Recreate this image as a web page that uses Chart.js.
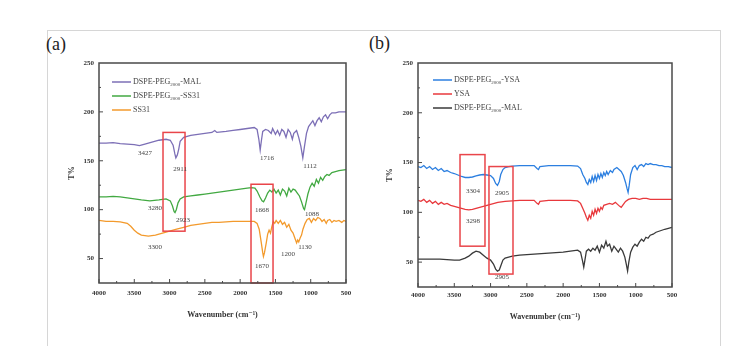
<!DOCTYPE html>
<html>
<head>
<meta charset="utf-8">
<script src="https://cdn.jsdelivr.net/npm/chart.js@4.4.1/dist/chart.umd.min.js"></script>
<style>
  body { margin: 0; background: #fff; }
  #wrap { position: relative; width: 741px; height: 346px; overflow: hidden; background: #fff; }
  #border { position: absolute; left: 47px; top: 30px; width: 672px; height: 330px; border: 1px solid #d6d6d6; border-bottom: none; }
  .tag { position: absolute; font-family: "Liberation Serif", serif; font-size: 18px; color: #222; }
  canvas { position: absolute; top: 30px; }
</style>
</head>
<body>
<div id="wrap">
  <div id="border"></div>
  <div class="tag" style="left:46px; top:34px;">(a)</div>
  <div class="tag" style="left:369px; top:33px;">(b)</div>
  <canvas id="chartA" width="313" height="290" style="left:47px;"></canvas>
  <canvas id="chartB" width="360" height="292" style="left:360px;"></canvas>
</div>
<script>
// ---- panel (a) ----
const malWnA = [4000,3900,3800,3700,3600,3500,3427,3350,3250,3150,3050,2990,2950,2925,2911,2890,2870,2850,2800,2700,2600,2500,2400,2360,2330,2200,2100,2000,1900,1800,1760,1735,1716,1700,1680,1640,1600,1560,1540,1500,1470,1440,1410,1380,1350,1320,1290,1260,1240,1200,1170,1140,1112,1090,1060,1030,1000,970,940,910,880,850,820,790,760,730,700,650,600,500];
const malTA  = [168,168,168.5,167.5,167,166.5,165.5,167,169,171,172,171,166,157,153,156,162,170,174,176,177,178,179,181,179,180,181,182,183,184,182,172,161,170,180,182,181,178,183,177,181,176,182,180,174,182,179,172,178,181,174,165,153,164,178,185,188,191,186,191,194,190,195,197,193,197,199,199,200,200];

const ssWnA = [4000,3900,3800,3700,3600,3500,3400,3280,3150,3050,2990,2960,2935,2923,2905,2880,2850,2800,2700,2600,2500,2400,2300,2200,2100,2000,1900,1840,1790,1760,1720,1690,1668,1640,1610,1580,1550,1520,1490,1460,1430,1400,1370,1340,1310,1280,1250,1220,1190,1160,1130,1100,1088,1070,1040,1010,980,950,920,890,860,830,800,770,740,700,650,600,500];
const ssTA  = [113,113,113.5,113,112,111,110,109,110,111,109,104,98,97,100,107,111,113,114,115,116,117,118,119,120,121,122,122.5,122,119,113,109,108,112,117,120,118,121,117,120,115,121,119,114,122,118,121,120,117,114,108,101,100,106,116,123,127,124,131,127,133,130,134,136,135,138,139,140,141];

const pepWnA = [4000,3900,3800,3700,3600,3550,3500,3450,3400,3300,3200,3100,3000,2900,2800,2700,2600,2500,2400,2300,2200,2100,2000,1900,1800,1760,1730,1700,1680,1670,1655,1630,1610,1590,1570,1550,1530,1510,1490,1460,1430,1400,1370,1340,1310,1280,1250,1220,1200,1185,1170,1150,1130,1110,1080,1050,1020,990,960,930,900,870,840,810,780,760,730,700,670,640,600,560,530,500];
const pepTA  = [89,88,88,87.5,86,83,79,76,74,73,74,76,78,80,82,84,85,86,87,87,87.5,88,88,88,88,86,80,66,56,52,56,66,75,79,76,83,88,86,89,86,89,85,87,82,85,79,76,70,66,69,67,71,74,80,86,90,91,87,91,89,92,91,88,90,86,89,90,87,89,88,89,87,89,88];

const labelsA = ['DSPE-PEG2000-MAL', 'DSPE-PEG2000-SS31', 'SS31'];
const boxesA = [[3093, 2781, 179, 78], [1846, 1534, 126, 25]];
const notesA = [
  ['3427', 3348, 158], ['2911', 2852, 141], ['1716', 1620, 153], ['1112', 1010, 144],
  ['3280', 3206, 102], ['2923', 2810, 89], ['1668', 1690, 100], ['1088', 982, 95],
  ['3300', 3206, 62], ['1670', 1690, 42], ['1200', 1322, 55], ['1130', 1081, 62]
];

// ---- panel (b) ----
const ysaWnB = [4000,3960,3920,3880,3840,3800,3760,3720,3680,3640,3600,3550,3500,3450,3400,3350,3300,3250,3200,3150,3100,3050,3000,2960,2930,2905,2880,2860,2830,2800,2750,2700,2600,2500,2400,2360,2340,2320,2200,2100,2000,1900,1800,1760,1730,1700,1680,1660,1640,1620,1600,1580,1560,1540,1520,1500,1480,1460,1440,1420,1400,1380,1350,1320,1300,1260,1230,1200,1170,1140,1120,1105,1090,1070,1040,1010,980,950,920,890,860,830,800,760,720,680,640,600,550,500];
const ysaTB  = [146,145,147,144,146,143,145,142,144,141,142,140,139,137.5,136,135,135,135.5,136.5,137.5,138,137.5,137,134,129,127,131,138,143,145,146,146.5,147,147,147,144,143,146,147,147,147,147,146.5,144,138,134,130,128,133,130,136,131,137,132,138,134,139,135,140,137,141,138,142,140,143,145,143,141,137,130,124,120,127,138,145,147,143,147,148,146,149,148,149,148,148,147,147,146,146,145];

const yWnB = [4000,3960,3920,3880,3840,3800,3760,3720,3680,3640,3600,3550,3500,3450,3400,3350,3300,3250,3200,3100,3000,2900,2800,2700,2600,2500,2400,2360,2340,2320,2200,2100,2000,1900,1800,1760,1730,1700,1680,1660,1640,1620,1600,1580,1560,1540,1520,1500,1480,1460,1440,1400,1360,1320,1280,1250,1220,1200,1170,1140,1100,1050,1000,950,900,850,800,700,600,500];
const yTB  = [112,111,113,110,112,109,111,108,110,108,109,107,106,105,104,103,102.5,103,104,106,108,110,111,111.5,112,112,112,109,108,111,112,112,112,112,111.5,109,104,99,95,92,97,94,101,97,103,99,104,101,105,103,107,108,109,108,110,108,106,105,108,111,113,114,114,113,114,114,113,113,113,113];

const malWnB = [4000,3900,3800,3700,3600,3500,3427,3350,3300,3250,3200,3150,3100,3050,3000,2960,2930,2905,2880,2860,2830,2800,2700,2600,2500,2400,2300,2200,2100,2000,1900,1800,1760,1735,1716,1700,1680,1650,1620,1590,1560,1530,1500,1470,1440,1410,1390,1360,1330,1300,1270,1240,1210,1180,1150,1130,1112,1095,1070,1040,1010,980,950,920,890,860,830,800,760,720,680,640,600,550,500];
const malTB  = [53,53,53,53,52.5,52,52,54,56,59,61,60,57,54,52,48,43,41,42,46,52,54,56,57,57.5,58,58.5,59,59.5,60,61,62,60,52,45,52,61,63,61,64,62,66,60,67,64,71,66,68,61,66,63,60,64,61,55,48,41,50,60,65,68,66,70,73,71,75,74,77,78,80,81,82,83,84,85];

const labelsB = ['DSPE-PEG2000-YSA', 'YSA', 'DSPE-PEG2000-MAL'];
const boxesB = [[3421, 3077, 158, 66], [3022, 2691, 146, 38]];
const notesB = [
  ['3304', 3242, 121], ['2905', 2842, 119], ['3298', 3242, 91], ['2905', 2842, 35]
];

const xTicks = [4000, 3500, 3000, 2500, 2000, 1500, 1000, 500];
const yTicks = [50, 100, 150, 200, 250];

const SERIF = '"Liberation Serif", "DejaVu Serif", serif';

function pts(wn, t) {
  return wn.map((w, i) => ({ x: w, y: t[i] }));
}

// text with the "2000" drawn as subscript
function richText(ctx, txt, x, y) {
  const parts = txt.split(/(2000)/);
  parts.forEach(p => {
    if (!p) return;
    if (p === '2000') {
      ctx.font = '5px ' + SERIF;
      ctx.fillText(p, x, y + 2.5);
    } else {
      ctx.font = '8px ' + SERIF;
      ctx.fillText(p, x, y);
    }
    x += ctx.measureText(p).width;
  });
}

const framePlugin = {
  id: 'frame',
  afterDatasetsDraw(chart, args, opts) {
    const ctx = chart.ctx;
    const a = chart.chartArea;
    const xs = chart.scales.x, ys = chart.scales.y;
    ctx.save();

    // red highlight boxes
    ctx.strokeStyle = '#e9454a';
    ctx.lineWidth = 1.5;
    opts.boxes.forEach(b => {
      const x1 = xs.getPixelForValue(b[0]), x2 = xs.getPixelForValue(b[1]);
      const y1 = ys.getPixelForValue(b[2]), y2 = ys.getPixelForValue(b[3]);
      ctx.strokeRect(x1, y1, x2 - x1, y2 - y1);
    });

    // peak labels
    ctx.fillStyle = '#444';
    ctx.font = '7px ' + SERIF;
    ctx.textAlign = 'center';
    ctx.textBaseline = 'middle';
    opts.notes.forEach(n => {
      ctx.fillText(n[0], xs.getPixelForValue(n[1]), ys.getPixelForValue(n[2]));
    });

    // plot frame
    ctx.strokeStyle = '#4a4a4a';
    ctx.lineWidth = 1.5;
    ctx.strokeRect(a.left, a.top, a.width, a.height);

    // inward ticks
    ctx.lineWidth = 1;
    ctx.beginPath();
    for (let v = 500; v <= 4000; v += 250) {
      const px = xs.getPixelForValue(v);
      const len = v % 500 === 0 ? 4 : 2;
      ctx.moveTo(px, a.bottom);
      ctx.lineTo(px, a.bottom - len);
    }
    for (let v = 50; v < 250; v += 25) {
      const py = ys.getPixelForValue(v);
      const len = v % 50 === 0 ? 4 : 2;
      ctx.moveTo(a.left, py);
      ctx.lineTo(a.left + len, py);
    }
    ctx.stroke();

    // legend
    ctx.textAlign = 'left';
    chart.data.datasets.forEach((ds, i) => {
      const ly = a.top + opts.legendTop + i * 14;
      ctx.strokeStyle = ds.borderColor;
      ctx.lineWidth = 1.5;
      ctx.beginPath();
      ctx.moveTo(a.left + opts.legendLeft, ly);
      ctx.lineTo(a.left + opts.legendLeft + 19, ly);
      ctx.stroke();
      ctx.fillStyle = '#444';
      richText(ctx, ds.label, a.left + opts.legendLeft + 21, ly);
    });
    ctx.restore();
  }
};

function makeChart(id, series, boxes, notes, pad, yWidth, xHeight, tickPad, legendLeft, legendTop) {
  return new Chart(document.getElementById(id), {
    type: 'line',
    data: {
      datasets: series.map(s => ({
        label: s.label,
        data: s.data,
        borderColor: s.color,
        borderWidth: 1.3,
        pointRadius: 0,
        tension: 0,
        fill: false
      }))
    },
    options: {
      responsive: false,
      animation: false,
      devicePixelRatio: 1,
      layout: { padding: { left: pad[0], top: 33, right: pad[1], bottom: 0 } },
      plugins: {
        legend: { display: false },
        tooltip: { enabled: false },
        frame: { boxes: boxes, notes: notes, legendLeft: legendLeft, legendTop: legendTop }
      },
      scales: {
        x: {
          type: 'linear',
          reverse: true,
          min: 500,
          max: 4000,
          afterBuildTicks: sc => { sc.ticks = xTicks.map(v => ({ value: v })); },
          afterFit: sc => { sc.height = xHeight; },
          grid: { display: false, drawTicks: false },
          border: { display: false },
          ticks: {
            padding: tickPad,
            maxRotation: 0,
            autoSkip: false,
            color: '#333',
            callback: v => String(v),
            font: { family: SERIF, size: 7, weight: 'bold' }
          },
          title: {
            display: true,
            text: 'Wavenumber (cm⁻¹)',
            color: '#333',
            padding: { top: 1, bottom: 0 },
            font: { family: SERIF, size: 8, weight: 'bold' }
          }
        },
        y: {
          min: 25,
          max: 250,
          afterBuildTicks: sc => { sc.ticks = yTicks.map(v => ({ value: v })); },
          afterFit: sc => { sc.width = yWidth; },
          grid: { display: false, drawTicks: false },
          border: { display: false },
          ticks: {
            padding: 5,
            color: '#333',
            callback: v => String(v),
            font: { family: SERIF, size: 7, weight: 'bold' }
          },
          title: {
            display: true,
            text: 'T%',
            color: '#333',
            padding: { top: 0, bottom: 0 },
            font: { family: SERIF, size: 8, weight: 'bold' }
          }
        }
      }
    },
    plugins: [framePlugin]
  });
}

makeChart('chartA', [
  { label: labelsA[0], data: pts(malWnA, malTA), color: '#7c6fb6' },
  { label: labelsA[1], data: pts(ssWnA, ssTA), color: '#42a942' },
  { label: labelsA[2], data: pts(pepWnA, pepTA), color: '#f39a2c' }
], boxesA, notesA, [20, 14], 32, 37, 6, 13, 19);

makeChart('chartB', [
  { label: labelsB[0], data: pts(ysaWnB, ysaTB), color: '#2c7fe0' },
  { label: labelsB[1], data: pts(yWnB, yTB), color: '#e8383c' },
  { label: labelsB[2], data: pts(malWnB, malTB), color: '#3a3a3a' }
], boxesB, notesB, [25, 48], 33, 35, 4, 15, 17);
</script>
</body>
</html>
